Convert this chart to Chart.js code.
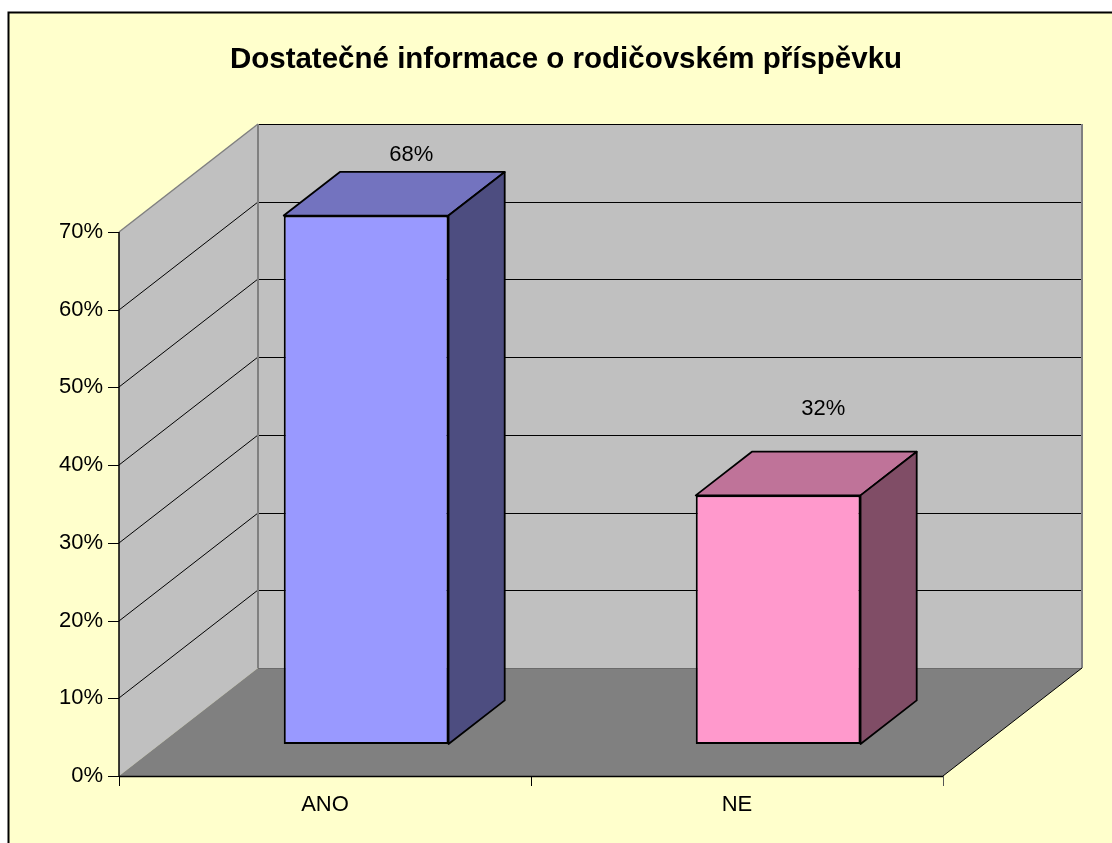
<!DOCTYPE html>
<html>
<head>
<meta charset="utf-8">
<script src="https://cdn.jsdelivr.net/npm/chart.js@4.4.1/dist/chart.umd.min.js"></script>
<style>
html,body{margin:0;padding:0;background:#fff;overflow:hidden}
#wrap{width:1112px;height:843px;position:relative}
canvas{display:block}
</style>
</head>
<body>
<div id="wrap"><canvas id="c" width="1112" height="843"></canvas></div>
<script>
// ---- data ----
const chartTitle = 'Dostatečné informace o rodičovském příspěvku';
const categories = ['ANO', 'NE'];
const shares = [0.68, 0.32];
const valueLabels = ['68%', '32%'];
const yTickValues = [0, 0.1, 0.2, 0.3, 0.4, 0.5, 0.6, 0.7];

// ---- styles ----
const frontColors = ['#9999FF', '#FF99CC'];
const topColors = ['#7373BF', '#BF7399'];
const sideColors = ['#4D4D80', '#804D66'];
const FONT = '"Liberation Sans", Arial, Helvetica, sans-serif';

function poly(ctx, pts, fill, stroke, lw) {
  ctx.beginPath();
  ctx.moveTo(pts[0][0], pts[0][1]);
  for (let i = 1; i < pts.length; i++) ctx.lineTo(pts[i][0], pts[i][1]);
  ctx.closePath();
  if (fill) { ctx.fillStyle = fill; ctx.fill(); }
  if (stroke) { ctx.strokeStyle = stroke; ctx.lineWidth = lw || 1; ctx.stroke(); }
}
function line(ctx, x1, y1, x2, y2, color, lw) {
  ctx.beginPath();
  ctx.moveTo(x1, y1); ctx.lineTo(x2, y2);
  ctx.strokeStyle = color; ctx.lineWidth = lw || 1; ctx.stroke();
}

const box3d = {
  id: 'box3d',
  beforeDraw(chart, args, o) {
    const ctx = chart.ctx;
    const {left: L, right: R} = chart.chartArea;
    const ys = chart.scales.y, xs = chart.scales.x;
    const y0 = ys.getPixelForValue(0), yT = ys.getPixelForValue(ys.max);
    const dx = o.depthX, dy = o.depthY;
    ctx.save();
    ctx.fillStyle = '#ffffff';
    ctx.fillRect(0, 0, chart.width, chart.height);
    ctx.fillStyle = '#FFFFCC';
    ctx.fillRect(8.5, 12.5, chart.width, chart.height);
    ctx.strokeStyle = '#000'; ctx.lineWidth = 2;
    ctx.strokeRect(8.5, 12.5, chart.width + 20, chart.height + 20);

    // walls and floor
    poly(ctx, [[L, y0], [L, yT], [L + dx, yT + dy], [L + dx, y0 + dy]], '#C0C0C0');
    poly(ctx, [[L + dx, yT + dy], [R + dx, yT + dy], [R + dx, y0 + dy], [L + dx, y0 + dy]], '#C0C0C0');
    poly(ctx, [[L, y0], [R, y0], [R + dx, y0 + dy], [L + dx, y0 + dy]], '#808080');

    // gridlines
    ys.ticks.forEach(t => {
      const p = Math.round(ys.getPixelForValue(t.value));
      if (t.value === 0) {
        line(ctx, L + dx, p + dy + 0.5, R + dx, p + dy + 0.5, '#6a6a6a', 1);
        return;
      }
      const top = Math.abs(t.value - ys.max) < 1e-9;
      line(ctx, L, p, L + dx, p + dy, top ? '#808080' : '#000', top ? 1.5 : 1);
      line(ctx, L + dx, p + dy + 0.5, R + dx, p + dy + 0.5, '#000', 1);
    });
    // back wall edges
    line(ctx, L + dx, yT + dy, L + dx, y0 + dy, '#808080', 2);
    line(ctx, R + dx, yT + dy, R + dx, y0 + dy, '#808080', 2);
    // floor right edge
    line(ctx, R, y0, R + dx, y0 + dy, '#000', 1);
    // axes
    line(ctx, L, y0, L, yT, '#000', 1.5);
    line(ctx, L, y0 + 0.5, R, y0 + 0.5, '#000', 1.5);
    ys.ticks.forEach(t => {
      const p = Math.round(ys.getPixelForValue(t.value)) + 0.5;
      line(ctx, L - 11, p, L, p, '#000', 1);
    });
    for (let i = 0; i <= categories.length; i++) {
      const px = Math.round(xs.getPixelForValue(i - 0.5)) + 0.5;
      line(ctx, px, y0, px, y0 + 10, i === categories.length ? '#555' : '#000', 1);
    }
    // title
    ctx.fillStyle = '#000';
    ctx.font = 'bold 29.5px ' + FONT;
    ctx.textAlign = 'center';
    ctx.textBaseline = 'middle';
    ctx.fillText(chartTitle, o.titleX, o.titleY);
    ctx.restore();
  },
  beforeDatasetDraw(chart, args, o) {
    chart.ctx.save();
    chart.ctx.translate(o.depthX * o.barFront, o.depthY * o.barFront);
  },
  afterDatasetDraw(chart, args, o) {
    const ctx = chart.ctx;
    ctx.restore();
    const f0x = o.depthX * o.barFront, f0y = o.depthY * o.barFront;
    const f1x = o.depthX * o.barBack, f1y = o.depthY * o.barBack;
    ctx.save();
    ctx.lineJoin = 'round';
    args.meta.data.forEach((el, i) => {
      const {x, y, base, width} = el.getProps(['x', 'y', 'base', 'width'], true);
      const xl = x - width / 2, xr = x + width / 2;
      poly(ctx, [[xl + f0x, y + f0y], [xr + f0x, y + f0y], [xr + f1x, y + f1y], [xl + f1x, y + f1y]], topColors[i], '#000', 1.8);
      poly(ctx, [[xr + f0x, y + f0y], [xr + f1x, y + f1y], [xr + f1x, base + f1y], [xr + f0x, base + f0y]], sideColors[i], '#000', 1.8);
    });
    ctx.restore();
  },
  afterDatasetsDraw(chart, args, o) {
    const ctx = chart.ctx;
    const meta = chart.getDatasetMeta(0);
    ctx.save();
    ctx.fillStyle = '#000';
    ctx.font = '22px ' + FONT;
    ctx.textAlign = 'center';
    ctx.textBaseline = 'middle';
    meta.data.forEach((el, i) => {
      const {x, y} = el.getProps(['x', 'y'], true);
      ctx.fillText(valueLabels[i], x + o.depthX * o.labelDepth, y + o.depthY * o.labelDepth - o.labelGap[i]);
    });
    ctx.restore();
  }
};

new Chart(document.getElementById('c'), {
  type: 'bar',
  data: {
    labels: categories,
    datasets: [{
      data: shares,
      backgroundColor: frontColors,
      borderColor: '#000',
      borderWidth: 2,
      borderSkipped: false,
      barPercentage: 0.4,
      categoryPercentage: 1.0,
      clip: false
    }]
  },
  options: {
    responsive: false,
    animation: false,
    events: [],
    layout: { padding: { left: 0, top: 232, right: 169, bottom: 0 } },
    plugins: {
      legend: { display: false },
      tooltip: { enabled: false },
      title: { display: false },
      box3d: {
        depthX: 139, depthY: -108,
        barFront: 0.296, barBack: 0.70,
        labelDepth: 0.62, labelGap: [26, 51],
        titleX: 566, titleY: 60
      }
    },
    scales: {
      x: {
        type: 'category',
        grid: { display: false, drawTicks: false },
        border: { display: false },
        ticks: { color: '#000', font: { family: FONT, size: 22 }, padding: 16, maxRotation: 0 },
        afterFit(s) { s.height = 67; }
      },
      y: {
        min: 0, max: 0.7,
        grid: { display: false, drawTicks: false },
        border: { display: false },
        afterBuildTicks(s) { s.ticks = yTickValues.map(v => ({ value: v })); },
        ticks: {
          color: '#000', font: { family: FONT, size: 22 }, padding: 16,
          callback: v => Math.round(v * 100) + '%'
        },
        afterFit(s) { s.width = 119; }
      }
    }
  },
  plugins: [box3d]
});
</script>
</body>
</html>
